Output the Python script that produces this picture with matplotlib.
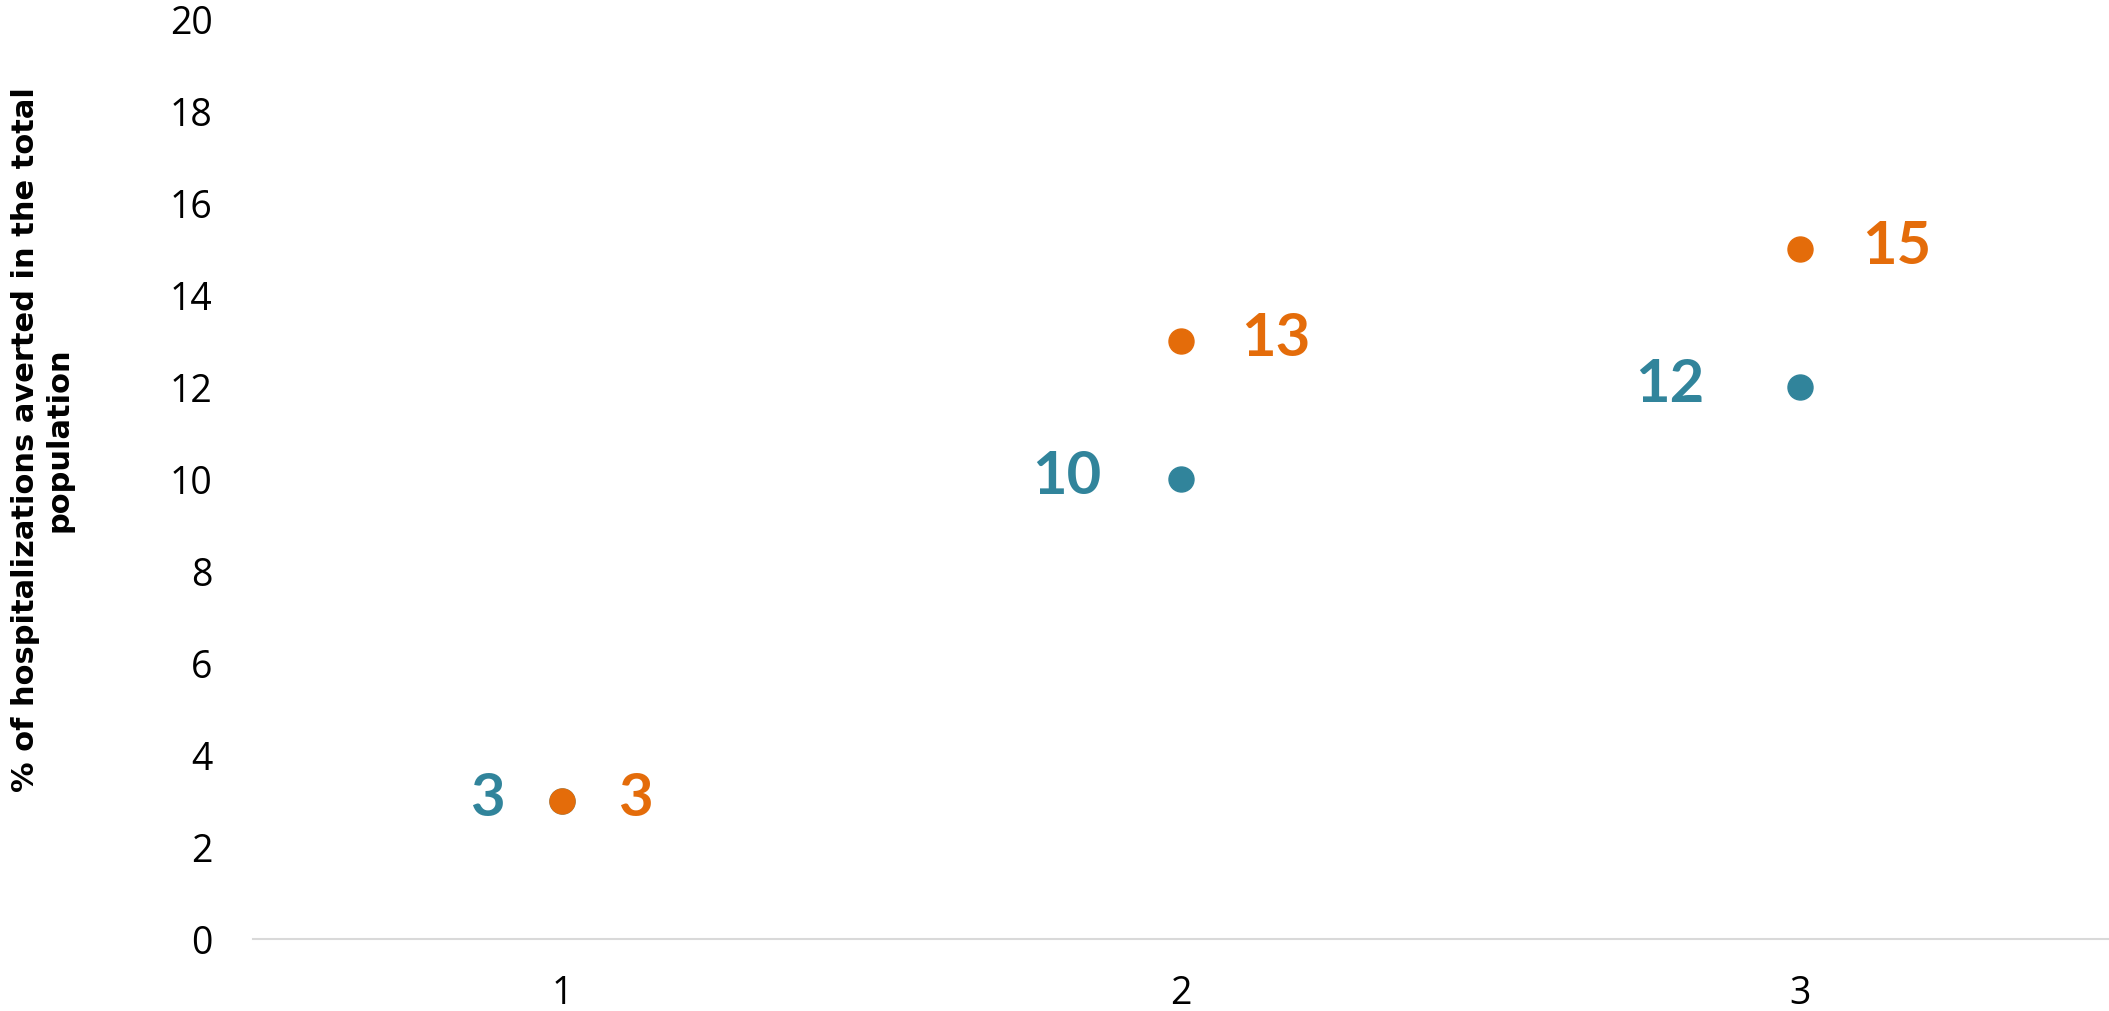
import matplotlib
matplotlib.use("Agg")
import matplotlib.pyplot as plt
from matplotlib import font_manager

categories = [1, 2, 3]
blue_values = [3, 10, 12]
orange_values = [3, 13, 15]
y_ticks = [0, 2, 4, 6, 8, 10, 12, 14, 16, 18, 20]
y_label = "% of hospitalizations averted in the total\npopulation"

BLUE = "#31849B"
ORANGE = "#E46C0A"
# label offsets in pixels (style only)
blue_dx = [-58, -80, -95]
orange_dx = [56, 60, 62]

names = {f.name for f in font_manager.fontManager.ttflist}
narrow = "Liberation Sans Narrow" if "Liberation Sans Narrow" in names else "DejaVu Sans"

fig = plt.figure(figsize=(21.09, 10.11), dpi=100)
ax = fig.add_axes([0.12, 0.0712, 0.88, 0.9100])

ax.plot(categories, blue_values, linestyle="none", marker="o", markersize=18,
        color=BLUE, zorder=3)
ax.plot(categories, orange_values, linestyle="none", marker="o", markersize=18,
        color=ORANGE, zorder=4)

for x, v, dx in zip(categories, blue_values, blue_dx):
    ax.annotate(f"{v}", (x, v), xytext=(dx, 2), textcoords="offset pixels",
                ha="right", va="center", color=BLUE, fontsize=43,
                fontweight="bold", family=["Lato", "DejaVu Sans"])
for x, v, dx in zip(categories, orange_values, orange_dx):
    ax.annotate(f"{v}", (x, v), xytext=(dx, 2), textcoords="offset pixels",
                ha="left", va="center", color=ORANGE, fontsize=43,
                fontweight="bold", family=["Lato", "DejaVu Sans"])

ax.set_xlim(0.5, 3.5)
ax.set_ylim(0, 20)
ax.set_yticks(y_ticks)
ax.set_xticks(categories)
ax.tick_params(length=0, labelsize=27)
ax.tick_params(axis="y", pad=29)
ax.tick_params(axis="x", pad=26)
for lab in ax.get_xticklabels() + ax.get_yticklabels():
    lab.set_family(["Open Sans", "DejaVu Sans"])
    lab.set_color("#000000")

for s in ["top", "right", "left"]:
    ax.spines[s].set_visible(False)
ax.spines["bottom"].set_color("#D9D9D9")
ax.spines["bottom"].set_linewidth(1.5)

fig.text(0.020, 0.565, y_label, rotation=90, ha="center", va="center",
         fontsize=22 if narrow == "DejaVu Sans" else 27, fontweight="bold",
         family=[narrow, "DejaVu Sans"],
         multialignment="center", linespacing=1.2)

fig.savefig("out.png", dpi=100)
